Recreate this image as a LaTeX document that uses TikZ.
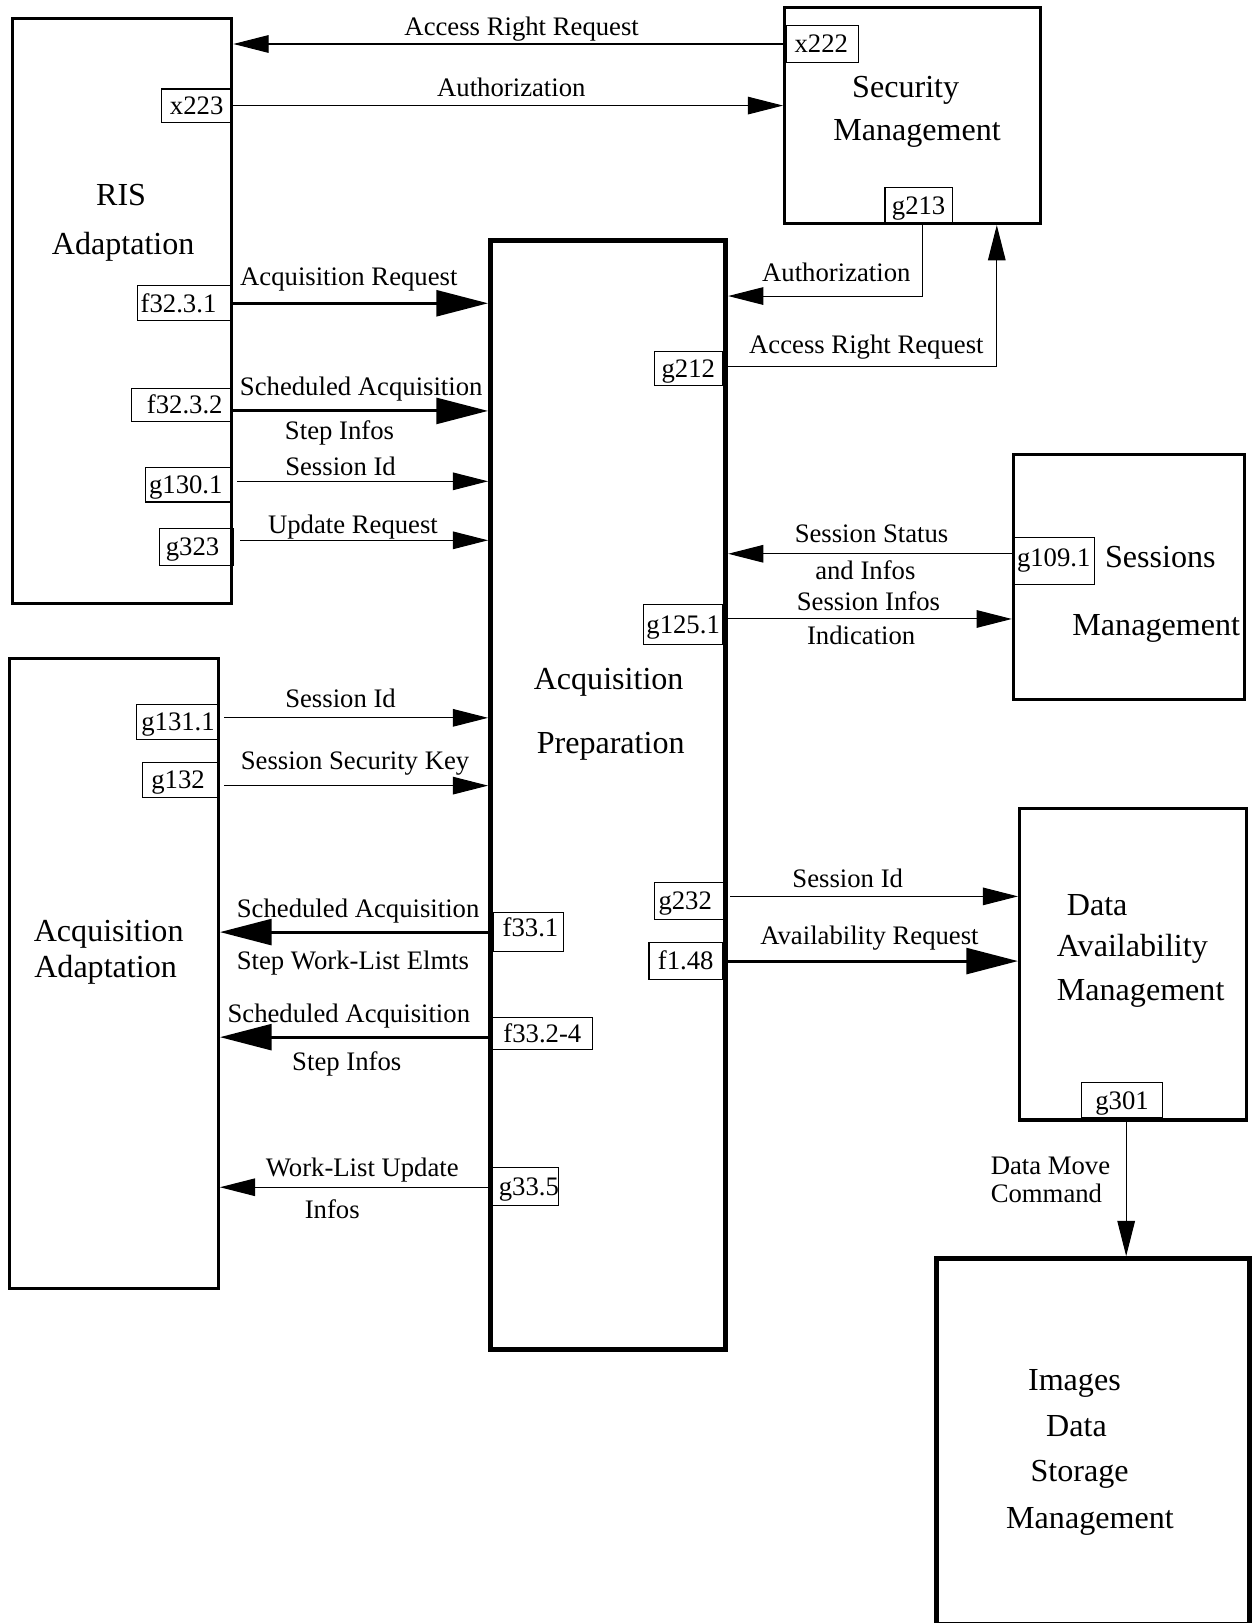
\documentclass[tikz,border=0pt]{standalone}
\usepackage{fontspec}
\setmainfont{Liberation Serif}
\usetikzlibrary{fit,arrows.meta}
\begin{document}
\begin{tikzpicture}[x=1pt,y=-1pt,
  box/.style={draw, line width=3pt, inner sep=0pt},
  heavybox/.style={draw, line width=5pt, inner sep=0pt},
  port/.style={draw, line width=1pt, inner sep=0pt},
  ptxt/.style={font=\fontsize{25.8}{28}\selectfont, inner sep=0pt, text height=17pt, text depth=0pt, anchor=center},
  lbl/.style={font=\fontsize{25.8}{28}\selectfont, inner sep=0pt, anchor=base},
  ttl/.style={font=\fontsize{31}{34}\selectfont, inner sep=0pt, anchor=base},
  flow/.style={line width=1pt, -{Triangle[length=34pt,width=17pt]}},
  bigflow/.style={line width=3pt, -{Triangle[length=50pt,width=25pt]}},
]
\useasboundingbox (0,0) rectangle (1209,1568);

% functional blocks
\node[box, fit={(12,18) (224,583)}] (ris) {};
\node[box, fit={(758,7) (1005,216)}] (sec) {};
\node[heavybox, fit={(474,232) (701,1304)}] (prep) {};
\node[box, fit={(979,439) (1202,676)}] (sess) {};
\node[box, fit={(9,636) (211,1245)}] (adapt) {};
\node[box, fit={(985,781) (1204,1082)}] (dav) {};
\node[heavybox, fit={(905,1216) (1207.5,1569.5)}] (img) {};

% block titles
\node[ttl] (tris1) at (117,199) {RIS};
\node[ttl] (tris2) at (119,246) {Adaptation};
\node[ttl] (tsec1) at (875,94) {Security};
\node[ttl] (tsec2) at (886,136) {Management};
\node[ttl] (tprep1) at (588,666) {Acquisition};
\node[ttl] (tprep2) at (590,728) {Preparation};
\node[ttl] (tsess1) at (1121,548) {Sessions};
\node[ttl] (tsess2) at (1117,614) {Management};
\node[ttl] (tadapt1) at (105,910) {Acquisition};
\node[ttl] (tadapt2) at (102,944) {Adaptation};
\node[ttl] (tdav1) at (1060,884) {Data};
\node[ttl] (tdav2) at (1094,924) {Availability};
\node[ttl] (tdav3) at (1102,967) {Management};
\node[ttl] (timg1) at (1038,1343) {Images};
\node[ttl] (timg2) at (1040,1388) {Data};
\node[ttl] (timg3) at (1043,1431) {Storage};
\node[ttl] (timg4) at (1053,1477) {Management};

% ports
\node[port, fit={(760,25) (829,60)}] (x222) {};
\node[port, fit={(156,86) (224,118)}] (x223) {};
\node[port, fit={(855,181) (920,216)}] (g213) {};
\node[port, fit={(133,276) (224,310)}] (f3231) {};
\node[port, fit={(632,340) (698,372)}] (g212) {};
\node[port, fit={(127,375) (224,407)}] (f3232) {};
\node[port, fit={(141,452) (224,485)}] (g1301) {};
\node[port, fit={(154,511) (226,546)}] (g323) {};
\node[port, fit={(979,519) (1057,565)}] (g1091) {};
\node[port, fit={(622,584) (698,623)}] (g1251) {};
\node[port, fit={(132,681) (212,714)}] (g1311) {};
\node[port, fit={(138,737) (212,770)}] (g132) {};
\node[port, fit={(632,853) (700,888)}] (g232) {};
\node[port, fit={(477,882) (544,919)}] (f331) {};
\node[port, fit={(627,911) (698,946)}] (f148) {};
\node[port, fit={(476,983) (572,1014)}] (f3324) {};
\node[port, fit={(1045,1046) (1123,1080)}] (g301) {};
\node[port, fit={(476,1128) (540,1165)}] (g335) {};

% port identifiers
\node[ptxt] (tx222) at ([xshift=-1pt]x222.center) {x222};
\node[ptxt] (tx223) at (x223.center) {x223};
\node[ptxt] (tg213) at (g213.center) {g213};
\node[ptxt] (tf3231) at ([xshift=-6pt]f3231.center) {f32.3.1};
\node[ptxt] (tg212) at (g212.center) {g212};
\node[ptxt] (tf3232) at ([xshift=3pt]f3232.center) {f32.3.2};
\node[ptxt] (tg1301) at ([xshift=-3pt]g1301.center) {g130.1};
\node[ptxt] (tg323) at ([xshift=-4pt]g323.center) {g323};
\node[ptxt] (tg1091) at ([yshift=3pt]g1091.center) {g109.1};
\node[ptxt] (tg1251) at (g1251.center) {g125.1};
\node[ptxt] (tg1311) at (g1311.center) {g131.1};
\node[ptxt] (tg132) at ([xshift=-3pt]g132.center) {g132};
\node[ptxt] (tg232) at ([xshift=-4pt]g232.center) {g232};
\node[ptxt] (tf331) at ([xshift=2pt,yshift=4pt]f331.center) {f33.1};
\node[ptxt] (tf148) at (f148.center) {f1.48};
\node[ptxt] (tf3324) at (f3324.center) {f33.2-4};
\node[ptxt] (tg301) at (g301.center) {g301};
\node[ptxt] (tg335) at ([xshift=3pt]g335.center) {g33.5};

% bends of the routed flows
\coordinate (authbend) at (891,286);
\coordinate (arbend) at (963,354);

% flows
\draw[flow] (x222.west) -- (x222.west -| ris.east);
\draw[flow] (x223.east) -- (x223.east -| sec.west);
\draw[bigflow] (f3231.east) -- (f3231.east -| prep.west);
\draw[bigflow] ([yshift=-6pt]f3232.east) -- ([yshift=-6pt]f3232.east -| prep.west);
\draw[flow] ([xshift=4.5pt,yshift=3.5pt]g1301.east) -- ([yshift=3.5pt]g1301.east -| prep.west);
\draw[flow] ([xshift=5.5pt,yshift=6.5pt]g323.east) -- ([yshift=6.5pt]g323.east -| prep.west);
\draw[flow] (g213.south -| authbend) -- (authbend) -- (authbend -| prep.east);
\draw[flow] (g212.east |- arbend) -- (arbend) -- (arbend |- sec.south);
\draw[flow] ([yshift=7pt]g1091.west) -- ([yshift=7pt]g1091.west -| prep.east);
\draw[flow] ([yshift=5.5pt]g1251.east) -- ([yshift=5.5pt]g1251.east -| sess.west);
\draw[flow] ([xshift=4pt,yshift=4pt]g1311.east) -- ([yshift=4pt]g1311.east -| prep.west);
\draw[flow] ([xshift=4pt,yshift=-5.5pt]g132.east) -- ([yshift=-5.5pt]g132.east -| prep.west);
\draw[bigflow] (f331.west) -- (f331.west -| adapt.east);
\draw[bigflow] ([yshift=-3.5pt]f3324.west) -- ([yshift=-3.5pt]f3324.west -| adapt.east);
\draw[flow] ([yshift=-0.5pt]g335.west) -- ([yshift=-0.5pt]g335.west -| adapt.east);
\draw[flow] ([xshift=5pt,yshift=4.5pt]g232.east) -- ([yshift=4.5pt]g232.east -| dav.west);
\draw[bigflow] (f148.east) -- (f148.east -| dav.west);
\draw[flow] ([xshift=4pt]g301.south) -- ([xshift=4pt]g301.south |- img.north);

% flow labels
\node[lbl] (l1) at (504,34) {Access Right Request};
\node[lbl] (l2) at (494,93) {Authorization};
\node[lbl] (l3) at (337,276) {Acquisition Request};
\node[lbl] (l4a) at (349,382) {Scheduled Acquisition};
\node[lbl] (l4b) at (328,425) {Step Infos};
\node[lbl] (l5) at (329,459) {Session Id};
\node[lbl] (l6) at (341,515) {Update Request};
\node[lbl] (l7) at (808,272) {Authorization};
\node[lbl] (l8) at (837,342) {Access Right Request};
\node[lbl] (l9a) at (842,524) {Session Status};
\node[lbl] (l9b) at (836,560) {and Infos};
\node[lbl] (l10a) at (839,590) {Session Infos};
\node[lbl] (l10b) at (832,623) {Indication};
\node[lbl] (l11) at (329,684) {Session Id};
\node[lbl] (l12) at (343,743) {Session Security Key};
\node[lbl] (l13a) at (346,886) {Scheduled Acquisition};
\node[lbl] (l13b) at (341,937) {Step Work-List Elmts};
\node[lbl] (l14a) at (337,988) {Scheduled Acquisition};
\node[lbl] (l14b) at (335,1034) {Step Infos};
\node[lbl] (l15a) at (350,1137) {Work-List Update};
\node[lbl] (l15b) at (321,1177) {Infos};
\node[lbl] (l16) at (819,857) {Session Id};
\node[lbl] (l17) at (840,912) {Availability Request};
\node[lbl, anchor=base west] (l18a) at (957,1135) {Data Move};
\node[lbl, anchor=base west] (l18b) at (957,1162) {Command};
\end{tikzpicture}
\end{document}
